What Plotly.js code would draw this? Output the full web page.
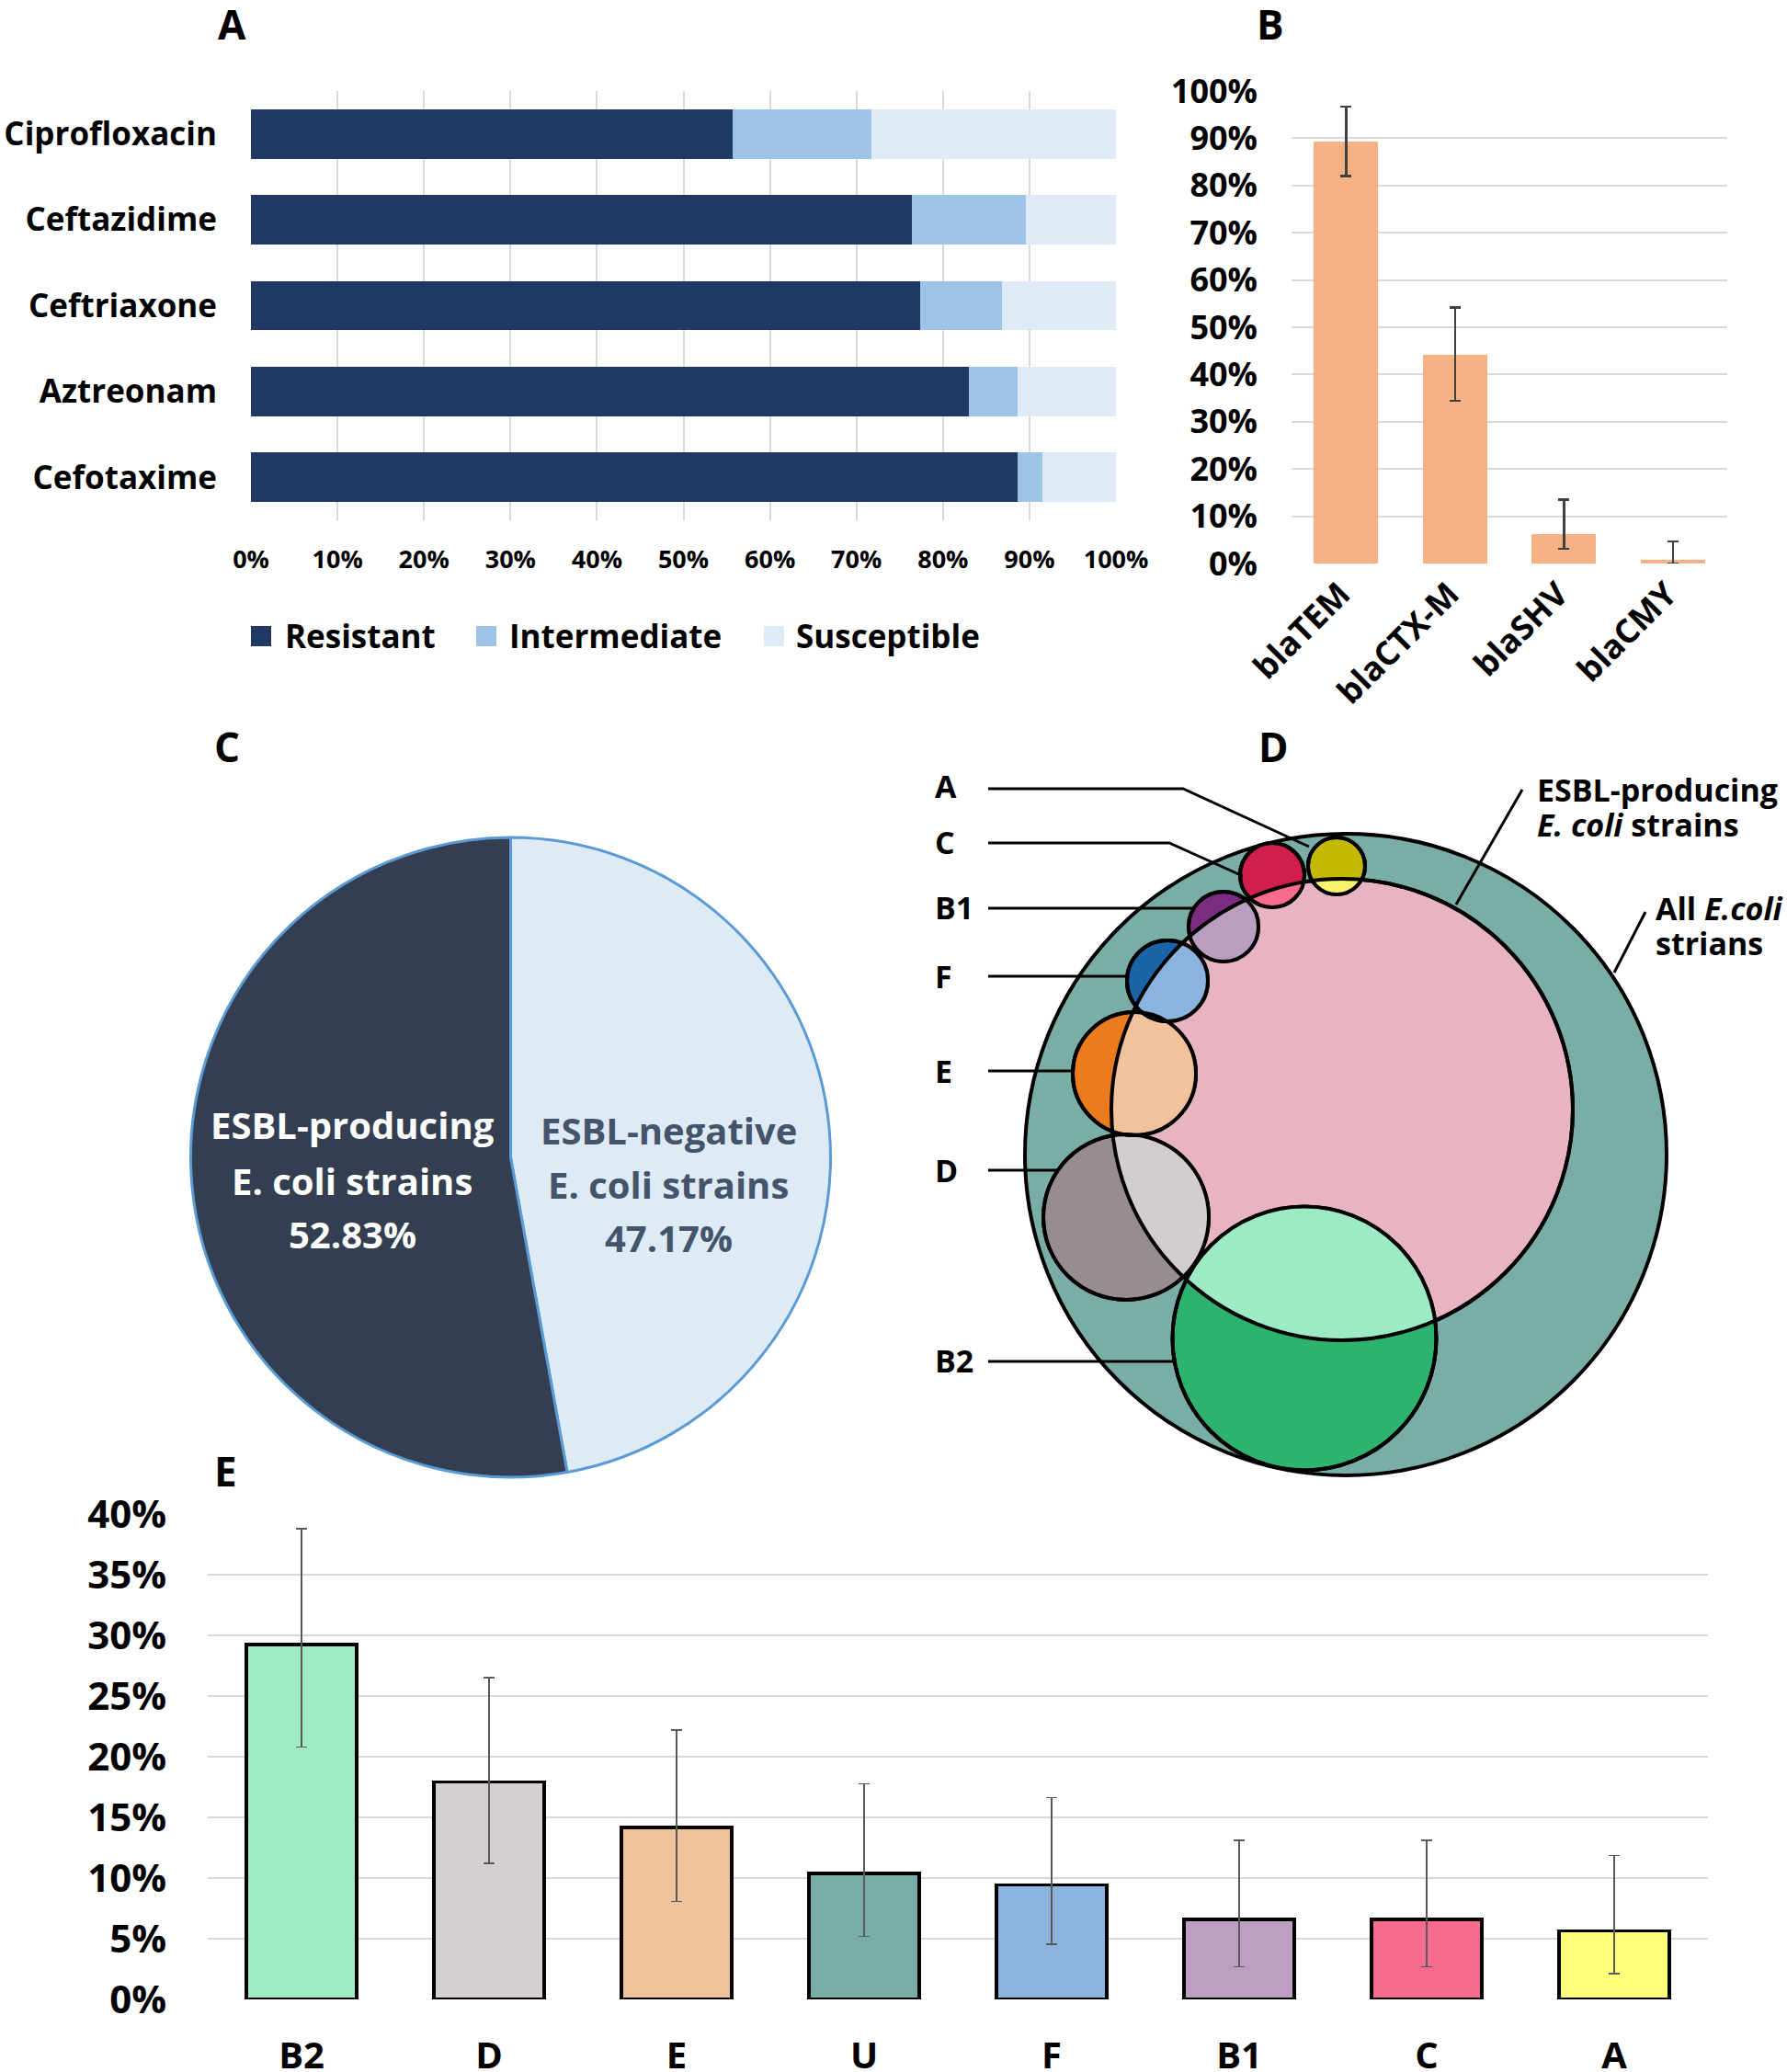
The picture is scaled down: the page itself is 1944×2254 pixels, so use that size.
<!DOCTYPE html>
<html><head><meta charset="utf-8">
<script src="https://cdn.plot.ly/plotly-3.0.1.min.js"></script>
<style>html,body{margin:0;padding:0;background:#fff}#chart{width:1944px;height:2254px}</style>
</head><body><div id="chart"></div>
<script>
// ---------- DATA ----------
// Panel A: antimicrobial susceptibility (%)
const antibiotics = ['Ciprofloxacin','Ceftazidime','Ceftriaxone','Aztreonam','Cefotaxime'];
const resistant    = [55.66, 76.42, 77.36, 83.02, 88.68];
const intermediate = [16.04, 13.21,  9.43,  5.66,  2.83];
const susceptible  = [28.30, 10.38, 13.21, 11.32,  8.49];
const seriesNamesA = ['Resistant','Intermediate','Susceptible'];
// Panel B: beta-lactamase genes (%)
const genes        = ['blaTEM','blaCTX-M','blaSHV','blaCMY'];
const geneFreq     = [89.3, 44.1, 6.2, 0.7];
const geneErrPlus  = [7.4, 10.1, 7.3, 4.0];
const geneErrMinus = [7.3,  9.7, 3.1, 0.7];
// Panel C: ESBL share (%) - listed clockwise from 12 o'clock
const esblLabels = ['ESBL-negative E. coli strains','ESBL-producing E. coli strains'];
const esblPct    = [47.17, 52.83];
// Panel E: phylogroups (%)
const phylogroups   = ['B2','D','E','U','F','B1','C','A'];
const phyloFreq     = [29.25, 17.92, 14.15, 10.38, 9.43, 6.60, 6.60, 5.66];
const phyloErrPlus  = [9.55, 8.6, 8.05, 7.4, 7.2, 6.5, 6.5, 6.2];
const phyloErrMinus = [8.45, 6.7, 6.1, 5.2, 4.9, 3.9, 3.9, 3.55];

// ---------- STYLE / GEOMETRY ----------
const W = 1944, H = 2254;
const FONT = 'Open Sans, Lato, sans-serif';
const bold = (size, color) => ({family: FONT, size: size, color: color || '#000000', weight: 'bold'});
const px = x => x / W, py = y => 1 - y / H;
const colA = ['#203864', '#9DC3E6', '#DEEBF7'];
const pieColors = ['#DEEBF7', '#333F50'];
const phyloColors = ['#9EEBC6','#D5CFCF','#F1C39B','#7AADA6','#8DB4DE','#BC9FC1','#F76C8E','#FFFF79'];
const GRID = '#D9D9D9';

// Diagram D geometry (pixels)
const diagram = {
  outer: {cx: 1464, cy: 1256, r: 349, fill: '#7AADA6'},
  inner: {cx: 1460, cy: 1207, r: 251, fill: '#E8B4C2'},
  groups: [
    {name:'B2', cx:1419, cy:1456, r:143.5, dark:'#2DB36F', light:'#9DEAC5', line:[[1075,1481],[1278,1481]]},
    {name:'D',  cx:1225, cy:1324, r:90,    dark:'#978D8E', light:'#D3CDCD', line:[[1075,1273],[1150,1273]]},
    {name:'E',  cx:1234, cy:1168, r:67,    dark:'#EC7B1E', light:'#F1C29B', line:[[1075,1165],[1167,1165]]},
    {name:'F',  cx:1270, cy:1067, r:44,    dark:'#1C64A8', light:'#8AB3DD', line:[[1075,1062],[1227,1062]]},
    {name:'B1', cx:1331, cy:1008, r:38,    dark:'#7B2D82', light:'#BA9EC0', line:[[1075,988],[1298,988]]},
    {name:'C',  cx:1384, cy:952,  r:35,    dark:'#D01E4D', light:'#F86D8D', line:[[1075,917],[1272,917],[1352,953]]},
    {name:'A',  cx:1454, cy:942,  r:31,    dark:'#C5B800', light:'#FBF36E', line:[[1075,858],[1287,858],[1424,921]]}
  ],
  labelX: 1015,
  labelY: {B2:1480, D:1273, E:1165, F:1062, B1:987, C:916, A:855}
};

// ---------- TRACES ----------
const traces = [];
[resistant, intermediate, susceptible].forEach((vals, i) => {
  traces.push({type:'bar', orientation:'h', x: vals, y: antibiotics, name: seriesNamesA[i],
    marker:{color: colA[i], line:{width:0}}, width:0.575, xaxis:'x', yaxis:'y', hoverinfo:'skip'});
});
traces.push({type:'bar', x: genes, y: geneFreq, xaxis:'x2', yaxis:'y2', width:0.59,
  marker:{color:'#F4B183', line:{width:0}},
  error_y:{type:'data', symmetric:false, array: geneErrPlus, arrayminus: geneErrMinus, color:'#404040', thickness:2.5, width:6},
  hoverinfo:'skip'});
const pie = {cx: 555.5, cy: 1259, r: 348};
traces.push({type:'pie', labels: esblLabels, values: esblPct, sort:false, direction:'clockwise', rotation:0,
  marker:{colors: pieColors, line:{color:'#5B9BD5', width:3}}, textinfo:'none', hoverinfo:'skip',
  domain:{x:[px(pie.cx - pie.r), px(pie.cx + pie.r)], y:[py(pie.cy + pie.r), py(pie.cy - pie.r)]}});
traces.push({type:'bar', x: phylogroups, y: phyloFreq, xaxis:'x3', yaxis:'y3', width:0.59,
  marker:{color: phyloColors, line:{color:'#000000', width:3.5}},
  error_y:{type:'data', symmetric:false, array: phyloErrPlus, arrayminus: phyloErrMinus, color:'#595959', thickness:1.5, width:6},
  hoverinfo:'skip'});

// ---------- SHAPES & ANNOTATIONS ----------
const shapes = [], annotations = [];
function circ(cx, cy, r, fill, lw) {
  return {type:'circle', xref:'paper', yref:'paper', x0:px(cx-r), x1:px(cx+r), y0:py(cy+r), y1:py(cy-r),
    fillcolor: fill, line:{color:'#000000', width: lw}, layer:'above'};
}
function pathOf(pts, closed) {
  return pts.map((p, i) => (i ? 'L' : 'M') + px(p[0]).toFixed(6) + ',' + py(p[1]).toFixed(6)).join(' ') + (closed ? ' Z' : '');
}
function lens(s, p) {
  const dx = p.cx - s.cx, dy = p.cy - s.cy, d = Math.hypot(dx, dy);
  const phi = Math.atan2(dy, dx), th = Math.atan2(-dy, -dx);
  const as = Math.acos((d*d + s.r*s.r - p.r*p.r) / (2*d*s.r));
  const ap = Math.acos((d*d + p.r*p.r - s.r*s.r) / (2*d*p.r));
  const pts = [], N = 90;
  for (let i = 0; i <= N; i++) { const a = phi - as + 2*as*i/N; pts.push([s.cx + s.r*Math.cos(a), s.cy + s.r*Math.sin(a)]); }
  for (let i = 0; i <= N; i++) { const a = th - ap + 2*ap*i/N; pts.push([p.cx + p.r*Math.cos(a), p.cy + p.r*Math.sin(a)]); }
  return pts;
}
// Panel D circles
const O = diagram.outer, P = diagram.inner;
shapes.push(circ(O.cx, O.cy, O.r, O.fill, 4));
shapes.push(circ(P.cx, P.cy, P.r, P.fill, 4));
diagram.groups.forEach(g => {
  shapes.push(circ(g.cx, g.cy, g.r, g.dark, 4));
  shapes.push({type:'path', xref:'paper', yref:'paper', path: pathOf(lens(g, P), true), fillcolor: g.light, line:{width:0}, layer:'above'});
});
shapes.push(circ(P.cx, P.cy, P.r, 'rgba(0,0,0,0)', 4));
diagram.groups.forEach(g => shapes.push(circ(g.cx, g.cy, g.r, 'rgba(0,0,0,0)', 4)));
// leader lines
diagram.groups.forEach(g => {
  shapes.push({type:'path', xref:'paper', yref:'paper', path: pathOf(g.line, false), line:{color:'#000000', width:3}, layer:'above'});
  annotations.push({xref:'paper', yref:'paper', x: px(diagram.labelX), y: py(diagram.labelY[g.name]), xanchor:'left', yanchor:'middle',
    text: g.name, showarrow:false, font: bold(34)});
});
shapes.push({type:'path', xref:'paper', yref:'paper', path: pathOf([[1656,859],[1584,984]], false), line:{color:'#000000', width:3}, layer:'above'});
shapes.push({type:'path', xref:'paper', yref:'paper', path: pathOf([[1790,992],[1756,1058]], false), line:{color:'#000000', width:3}, layer:'above'});
[['ESBL-producing', 1670, 859], ['<i>E. coli</i> strains', 1670, 897], ['All <i>E.coli</i>', 1799, 988], ['strians', 1799, 1026]].forEach(t => {
  annotations.push({xref:'paper', yref:'paper', x: px(t[1]), y: py(t[2]), xanchor:'left', yanchor:'middle', text: t[0], showarrow:false, font: bold(34)});
});

// Panel A legend (manual)
const legX = [[273, 308], [518, 552], [831, 864]];
seriesNamesA.forEach((n, i) => {
  shapes.push({type:'rect', xref:'paper', yref:'paper', x0:px(legX[i][0]), x1:px(legX[i][0]+22), y0:py(703), y1:py(681), fillcolor: colA[i], line:{width:0}});
  annotations.push({xref:'paper', yref:'paper', x: px(legX[i][1]), y: py(692), xanchor:'left', yanchor:'middle', text: n, showarrow:false, font: bold(35)});
});

// Panel C labels (index follows esblLabels order)
const cTextPos = [{x:727, y:[1229,1288,1346], color:'#44546A'}, {x:383, y:[1224,1284,1342], color:'#FFFFFF'}];
esblLabels.forEach((lab, i) => {
  const lines = lab.replace(' E. coli', '\nE. coli').split('\n').concat([esblPct[i].toFixed(2) + '%']);
  lines.forEach((ln, j) => annotations.push({xref:'paper', yref:'paper', x: px(cTextPos[i].x), y: py(cTextPos[i].y[j]),
    xanchor:'center', yanchor:'middle', text: ln, showarrow:false, font: bold(40, cTextPos[i].color)}));
});

// Panel letters
[['A',252,26],['B',1382,26],['C',247,812],['D',1385,812],['E',245,1600]].forEach(t => {
  annotations.push({xref:'paper', yref:'paper', x: px(t[1]), y: py(t[2]), xanchor:'center', yanchor:'middle', text: t[0], showarrow:false, font: bold(44)});
});

// ---------- LAYOUT ----------
const layout = {
  width: W, height: H, margin:{l:0, r:0, t:0, b:0},
  paper_bgcolor:'#FFFFFF', plot_bgcolor:'rgba(0,0,0,0)',
  barmode:'stack', showlegend:false, font:{family: FONT},
  xaxis:{domain:[px(273), px(1214)], anchor:'y', range:[0,100], dtick:10, ticksuffix:'%', showgrid:true, gridcolor:GRID, gridwidth:2,
    zeroline:false, showline:false, ticks:'', tickfont:bold(27), ticklabelstandoff:24, fixedrange:true},
  yaxis:{domain:[py(566), py(99)], anchor:'x', type:'category', autorange:'reversed', showgrid:false, zeroline:false, ticks:'',
    tickfont:bold(35), ticklabelstandoff:36, fixedrange:true},
  xaxis2:{domain:[px(1405), px(1879)], anchor:'y2', type:'category', tickangle:-45, showgrid:false, zeroline:false, ticks:'',
    tickfont:bold(36), ticklabelstandoff:4, ticklabelshift:-6, fixedrange:true},
  yaxis2:{domain:[py(613), py(99)], anchor:'x2', range:[0,100], dtick:10, ticksuffix:'%', showgrid:true, gridcolor:GRID, gridwidth:2,
    zeroline:false, ticks:'', tickfont:bold(36), ticklabelstandoff:36, fixedrange:true},
  xaxis3:{domain:[px(226), px(1858)], anchor:'y3', type:'category', showgrid:false, zeroline:false, ticks:'',
    tickfont:bold(40), ticklabelstandoff:34, fixedrange:true},
  yaxis3:{domain:[py(2175), py(1647)], anchor:'x3', range:[0,40], dtick:5, ticksuffix:'%', showgrid:true, gridcolor:GRID, gridwidth:2.5,
    zeroline:false, ticks:'', tickfont:bold(42), ticklabelstandoff:44, fixedrange:true},
  shapes: shapes, annotations: annotations
};
Plotly.newPlot('chart', traces, layout, {staticPlot:true, displayModeBar:false});
</script></body></html>
